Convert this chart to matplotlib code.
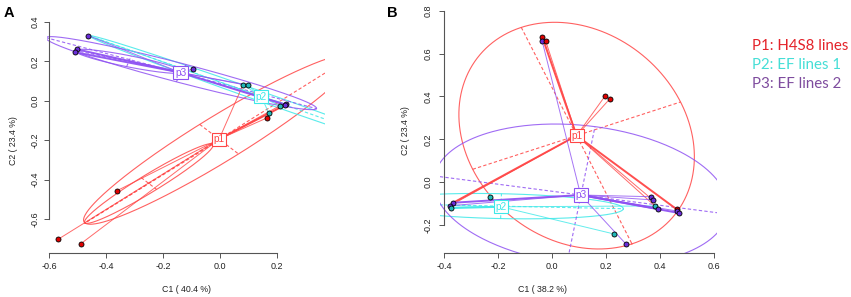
import numpy as np
import matplotlib
matplotlib.use("Agg")
import matplotlib.pyplot as plt

plt.rcParams['font.family'] = ['Liberation Sans', 'DejaVu Sans']
plt.rcParams['axes.unicode_minus'] = False

# group colours (line, point fill)
line_col = {'p1': '#FF4545', 'p2': '#3DE8E8', 'p3': '#8F52F2'}
pt_col = {'p1': '#E00000', 'p2': '#22B8B8', 'p3': '#6A2ED8'}

# ---------------- panel A data ----------------
A_x = [-0.462, -0.503, -0.508, -0.097, 0.080, 0.096, 0.232, 0.228, 0.208, 0.170, 0.164, -0.361, -0.567, -0.488]
A_y = [0.330, 0.261, 0.246, 0.160, 0.082, 0.080, -0.018, -0.021, -0.026, -0.063, -0.087, -0.456, -0.702, -0.725]
A_grp = ['p3', 'p3', 'p3', 'p3', 'p2', 'p2', 'p3', 'p3', 'p2', 'p2', 'p1', 'p1', 'p1', 'p1']

A_centre = {'p1': (-0.004, -0.195), 'p2': (0.144, 0.021), 'p3': (-0.139, 0.143)}
A_links = {'p1': [4, 9, 10, 8, 11, 12, 13], 'p2': [0, 4, 5, 6, 8, 9], 'p3': [0, 3, 4, 5, 6]}
A_bold = {'p1': [7], 'p2': [], 'p3': [1, 2, 7]}

# ellipses: group, centre, major half-axis, minor half-axis
A_ell_grp = ['p1', 'p1', 'p2', 'p3', 'p3']
A_ell_c = [(-0.004, -0.195), (-0.250, -0.420), (0.144, 0.021), (-0.137, 0.140), (-0.320, 0.200)]
A_ell_u = [(-0.470, -0.425), (-0.224, -0.200), (-0.604, 0.309), (0.474, -0.180), (0.190, -0.055)]
A_ell_v = [(0.068, -0.075), (0.027, -0.030), (0.011, 0.021), (0.017, 0.044), (0.008, 0.027)]

# ---------------- panel B data ----------------
B_x = [-0.037, -0.038, -0.025, 0.196, 0.214, -0.231, -0.367, -0.379, -0.377, 0.366, 0.372, 0.380, 0.392, 0.461, 0.463, 0.469, 0.229, 0.273]
B_y = [0.676, 0.660, 0.660, 0.403, 0.390, -0.068, -0.096, -0.110, -0.121, -0.068, -0.083, -0.111, -0.125, -0.127, -0.135, -0.144, -0.242, -0.289]
B_grp = ['p1', 'p3', 'p1', 'p1', 'p1', 'p2', 'p3', 'p3', 'p2', 'p3', 'p3', 'p2', 'p3', 'p1', 'p3', 'p3', 'p2', 'p3']

B_centre = {'p1': (0.090, 0.217), 'p2': (-0.190, -0.115), 'p3': (0.105, -0.060)}
B_links = {'p1': [2, 3, 4, 7, 11, 10], 'p2': [5, 7, 11, 16], 'p3': [7, 1, 10, 14, 17, 9]}
B_bold = {'p1': [0, 6, 13], 'p2': [8], 'p3': [6, 12, 15]}

B_ell_grp = ['p1', 'p2', 'p3']
B_ell_c = [(0.090, 0.217), (-0.190, -0.112), (0.106, -0.060)]
B_ell_u = [(0.205, -0.505), (0.453, -0.012), (0.543, -0.089)]
B_ell_v = [(0.385, 0.157), (0.0015, 0.058), (0.052, 0.319)]

legend_txt = ['P1: H4S8 lines', 'P2: EF lines 1', 'P3: EF lines 2']
legend_col = ['#E42229', '#45DED6', '#7E4C9E']


def draw_panel(ax, xs, ys, grp, centre, links, bold, ell_grp, ell_c, ell_u, ell_v):
    t = np.linspace(0, 2 * np.pi, 300)
    for g, c, u, v in zip(ell_grp, ell_c, ell_u, ell_v):
        c, u, v = np.array(c), np.array(u), np.array(v)
        ex = c[0] + np.cos(t) * u[0] + np.sin(t) * v[0]
        ey = c[1] + np.cos(t) * u[1] + np.sin(t) * v[1]
        ax.plot(ex, ey, color=line_col[g], lw=0.8, alpha=0.85, zorder=2)
        for w in (u, v):
            ax.plot([c[0] - w[0], c[0] + w[0]], [c[1] - w[1], c[1] + w[1]],
                    color=line_col[g], lw=0.8, ls=(0, (3, 2)), alpha=0.85, zorder=2)
    for g in centre:
        cx, cy = centre[g]
        for i in links[g]:
            ax.plot([cx, xs[i]], [cy, ys[i]], color=line_col[g], lw=0.7, alpha=0.8, zorder=3)
        for i in bold[g]:
            ax.plot([cx, xs[i]], [cy, ys[i]], color=line_col[g], lw=1.4, zorder=3,
                    alpha=0.95)
    for x, y, g in zip(xs, ys, grp):
        ax.plot(x, y, 'o', ms=3.6, mfc=pt_col[g], mec='black', mew=0.6, zorder=5)
    for g in centre:
        cx, cy = centre[g]
        ax.text(cx, cy, g, color=line_col[g], fontsize=7.3, ha='center', va='center', zorder=6,
                bbox=dict(boxstyle='square,pad=0.15', fc='white', ec=line_col[g], lw=0.8))


def style_axes(ax, xlim, ylim, xticks, yticks, ypad):
    ax.set_xlim(*xlim)
    ax.set_ylim(*ylim)
    ax.spines[['top', 'right']].set_visible(False)
    ax.spines['left'].set_position(('data', xticks[0]))
    ax.spines['left'].set_bounds(yticks[0], yticks[-1])
    ax.spines['bottom'].set_bounds(xticks[0], xticks[-1])
    for s in ('left', 'bottom'):
        ax.spines[s].set_color('#555555')
        ax.spines[s].set_linewidth(0.8)
    ax.set_xticks(xticks)
    ax.set_yticks(yticks)
    ax.set_xticklabels([f'{v:.1f}' for v in xticks])
    ax.set_yticklabels([f'{v:.1f}' for v in yticks], rotation=90, va='center')
    ax.tick_params(direction='out', length=3.5, width=0.7, color='#555555',
                   labelsize=6.5, labelcolor='#222222')
    ax.tick_params(axis='x', pad=3)
    ax.tick_params(axis='y', pad=ypad)
    ax.patch.set_alpha(0)


W, H = 851, 297
fig = plt.figure(figsize=(W / 100, H / 100), dpi=100)

# panel A: px = 49 + (x+0.6)*285.4 ; py = 22 + (0.4-y)*197
axA = fig.add_axes([46.7 / W, (H - 253.3) / H, (325.3 - 46.7) / W, (253.3 - 14.0) / H])
draw_panel(axA, A_x, A_y, A_grp, A_centre, A_links, A_bold, A_ell_grp, A_ell_c, A_ell_u, A_ell_v)
style_axes(axA, (-0.608, 0.368), (-0.774, 0.44), [-0.6, -0.4, -0.2, 0.0, 0.2],
           [-0.6, -0.4, -0.2, 0.0, 0.2, 0.4], 3)

# panel B: px = 444.3 + (x+0.4)*270 ; py = 10.7 + (0.8-y)*214.3
axB = fig.add_axes([440.3 / W, (H - 253.3) / H, (717.0 - 440.3) / W, (253.3 - 6.4) / H])
draw_panel(axB, B_x, B_y, B_grp, B_centre, B_links, B_bold, B_ell_grp, B_ell_c, B_ell_u, B_ell_v)
style_axes(axB, (-0.415, 0.61), (-0.332, 0.82), [-0.4, -0.2, 0.0, 0.2, 0.4, 0.6],
           [-0.2, 0.0, 0.2, 0.4, 0.6, 0.8], 5)

# axis titles
fig.text(187 / W, 1 - 289 / H, 'C1 ( 40.4 %)', fontsize=6.3, ha='center', va='center', color='#222222')
fig.text(13 / W, 1 - 141 / H, 'C2 ( 23.4 %)', fontsize=6.3, ha='center', va='center', rotation=90, color='#222222')
fig.text(543 / W, 1 - 289 / H, 'C1 ( 38.2 %)', fontsize=6.3, ha='center', va='center', color='#222222')
fig.text(405 / W, 1 - 131 / H, 'C2 ( 23.4 %)', fontsize=6.3, ha='center', va='center', rotation=90, color='#222222')

# panel letters
fig.text(4 / W, 1 - 17 / H, 'A', fontsize=10.5, fontweight='bold', va='baseline')
fig.text(387 / W, 1 - 17 / H, 'B', fontsize=10.5, fontweight='bold', va='baseline')

# legend text
for k, (txt, col) in enumerate(zip(legend_txt, legend_col)):
    fig.text(752 / W, 1 - (50 + 19 * k) / H, txt, fontsize=10.8, color=col,
             va='baseline', family=['Lato', 'DejaVu Sans'])

fig.savefig('out.png', dpi=100)
